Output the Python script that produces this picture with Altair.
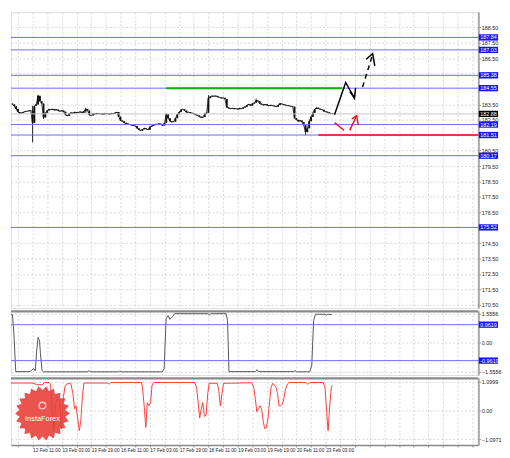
import math
import altair as alt
import pandas as pd

# ---------------- layout ----------------
W = 474
H_MAIN, H_OSC1, H_OSC2 = 300, 65, 68
FONT = "Liberation Sans"

# ---------------- data ----------------
X_DOMAIN = [4.2, 259.3]          # H1 bar index
P_DOMAIN = [170.30, 189.48]
OSC1_DOMAIN = [-1.73, 1.70]
OSC2_DOMAIN = [-1.317, 1.245]

grid_bars = list(range(8, 257, 8))
label_bars = [16, 32, 48, 64, 80, 96, 112, 128, 144, 160, 176]
time_labels = ["12 Feb 11:00", "13 Feb 03:00", "13 Feb 19:00", "16 Feb 11:00",
               "17 Feb 03:00", "17 Feb 19:00", "18 Feb 11:00", "19 Feb 03:00",
               "19 Feb 19:00", "20 Feb 11:00", "23 Feb 03:00"]

price_ticks = [188.5, 187.5, 186.5, 185.5, 183.5, 182.5, 180.5, 179.5,
               178.5, 177.5, 176.5, 174.5, 173.5, 172.5, 171.5, 170.5]

bar_start = 5
first_open = 183.55
closes = [
    183.50, 183.38, 183.20, 183.00, 182.92, 182.95, 183.00, 183.04, 183.06, 183.08,
    183.10, 182.30, 183.40, 183.50, 184.05, 183.70, 183.55, 182.65, 182.95, 183.10,
    183.18, 183.15, 183.20, 183.12, 183.16, 183.08, 183.05, 183.10, 183.02, 182.80,
    182.75, 182.90, 182.96, 182.92, 183.00, 182.95, 182.98, 183.02, 182.96, 183.05,
    183.20, 183.10, 182.80, 182.78, 182.90, 182.86, 182.92, 182.88, 182.90, 182.85,
    182.92, 182.88, 182.90, 182.86, 182.92, 182.88, 182.95, 183.00, 182.70, 182.45,
    182.40, 182.30, 182.25, 182.22, 182.20, 182.15, 182.12, 182.10, 181.95, 181.85,
    181.80, 181.88, 181.95, 181.90, 181.85, 182.05, 182.10, 182.15, 182.20, 182.22,
    182.25, 182.18, 182.12, 182.30, 182.85, 182.60, 182.40, 182.35, 182.38, 182.60,
    182.85, 183.00, 183.15, 183.18, 183.10, 182.98, 183.00, 182.95, 182.92, 182.88,
    182.82, 182.78, 182.70, 182.65, 182.68, 182.90, 182.96, 183.90, 184.00, 184.05,
    184.02, 184.05, 183.98, 183.95, 183.90, 183.92, 183.85, 183.30, 183.25, 183.22,
    183.25, 183.20, 183.22, 183.18, 183.25, 183.22, 183.30, 183.35, 183.45, 183.50,
    183.42, 183.55, 183.60, 183.75, 183.70, 183.55, 183.50, 183.45, 183.50, 183.44,
    183.40, 183.45, 183.42, 183.38, 183.35, 183.45, 183.55, 183.52, 183.48, 183.45,
    183.42, 183.40, 183.38, 183.35, 182.60, 182.50, 182.40, 182.45, 182.35, 182.15,
    181.70, 181.95, 182.40, 182.70, 182.95, 183.20, 183.28, 183.22, 183.18, 183.15,
    183.05, 183.02, 182.98, 182.92, 182.90, 182.88,
]
wick_bars = [16, 19, 22, 45, 89, 112, 138, 165]
wick_low = [181.03, 183.45, 182.55, 182.95, 182.30, 182.96, 183.60, 181.50]
wick_high = [183.40, 184.12, 183.55, 183.28, 182.92, 184.10, 183.88, 181.95]

levels = [187.84, 187.03, 185.38, 184.55, 182.19, 181.51, 180.17, 175.52]
current_price = 182.88
green_from, green_to, green_price = 88.9, 185.0, 184.55
red_from, red_to, red_price = 172.0, 259.3, 181.51

# forecast arrows (bar index, price)
black_solid_b = [180.8, 186.9, 191.7, None, 189.2, 191.7, 192.3]
black_solid_p = [182.83, 184.92, 183.90, None, 184.33, 183.90, 184.57]
black_dash_b = [196.1, 201.6]
black_dash_p = [184.62, 186.73]
black_head_b = [198.1, 201.6, 202.8]
black_head_p = [186.42, 186.79, 185.99]
red_b = [180.8, 186.0, None, 189.1, 192.9, None, 190.3, 192.9, 193.8]
red_p = [182.32, 181.81, None, 181.81, 182.77, None, 182.56, 182.77, 182.16]

osc1_b = [4.2, 5.0, 5.8, 6.8, 14.6, 15.6, 16.7, 17.5, 18.2, 19.0, 19.8, 20.3, 21.2, 21.9,
          45.8, 46.8, 47.8, 62.9, 63.4, 64.5, 86.8, 87.8, 88.9, 89.9, 90.9, 92.0, 93.6,
          111.7, 112.5, 113.3, 121.6, 122.4, 123.2, 137.7, 138.5, 139.3, 158.5, 159.3,
          160.0, 167.3, 168.4, 169.4, 170.4, 175.6, 176.4, 177.2, 179.3]
osc1_v = [1.50, 1.50, 0.50, -1.55, -1.55, -1.45, -1.40, -1.50, -0.50, 0.28, 0.10, -0.60,
          -1.50, -1.56, -1.56, -1.50, -1.56, -1.56, -1.52, -1.56, -1.56, -1.40, 1.30, 1.45,
          1.25, 1.35, 1.55, 1.55, 1.48, 1.55, 1.55, 1.20, -1.55, -1.55, -1.45, -1.55, -1.55,
          -1.50, -1.56, -1.56, -1.20, 1.20, 1.52, 1.52, 1.48, 1.52, 1.50]
osc1_levels = [0.9619, -0.9619]
osc1_ticks = [1.5556, 0.0, -1.5556]

osc2_b = [4.2, 16.2, 18.2, 21.3, 22.4, 25.0, 25.8, 26.5, 27.6, 28.6, 29.7, 30.7, 31.7, 32.8,
          33.8, 34.9, 36.9, 38.0, 38.9, 39.7, 40.6, 41.5, 42.3, 43.2, 44.0, 57.0, 57.7, 58.7,
          75.4, 76.0, 76.9, 77.8, 78.6, 79.5, 80.4, 81.2, 82.1, 104.5, 105.5, 106.4, 107.2,
          108.1, 108.9, 109.8, 110.7, 111.6, 112.4, 116.8, 117.6, 118.5, 119.4, 120.2, 135.6,
          136.7, 137.6, 138.4, 139.3, 140.2, 141.0, 141.9, 142.7, 143.6, 144.5, 145.3, 146.2,
          147.1, 148.8, 149.7, 150.5, 151.4, 152.3, 153.1, 153.9, 154.9, 155.9, 165.2, 166.3,
          167.3, 174.6, 175.6, 176.5, 177.3, 178.2, 179.1, 179.6]
osc2_v = [1.05, 1.05, 0.99, 0.98, 1.07, 1.07, 1.00, 0.20, -0.80, 0.30, 0.45, 0.40, -0.70, 0.50,
          0.95, 1.02, 1.03, 0.65, 0.07, 0.18, -0.29, -0.77, -0.42, 0.53, 1.05, 1.05, 1.00, 1.07,
          1.07, 0.89, 0.18, -0.65, 0.30, 0.18, 0.30, 0.96, 1.07, 1.07, 0.89, 0.30, -0.29,
          0.07, 0.30, -0.23, -0.17, 0.65, 1.04, 1.04, 0.77, 0.18, 0.65, 1.04, 1.06,
          0.89, 0.43, -0.05, 0.07, 0.18, 0.07, -0.42, -0.69, -0.66, -0.29, 0.30, 0.89,
          1.04, 0.90, 0.65, 0.18, 0.18, 0.24, 0.43, 0.77, 0.98, 1.07, 1.07, 1.00,
          1.07, 1.07, 0.89, -0.05, -0.77, 0.18, 0.89, 0.96]
osc2_ticks = [1.0999, 0.0, -1.0971]

logo_b, logo_v = 21.4, -0.11

# ---------------- tables ----------------
wick_map = {b: (lo, hi) for b, lo, hi in zip(wick_bars, wick_low, wick_high)}
rows = []
prev = first_open
for i, c in enumerate(closes):
    b = bar_start + i
    lo, hi = min(prev, c), max(prev, c)
    if b in wick_map:
        lo, hi = min(lo, wick_map[b][0]), max(hi, wick_map[b][1])
    rows.append({"b": b, "p": prev, "p2": c, "lo": lo, "hi": hi})
    prev = c
candles = pd.DataFrame(rows)


def seg_table(bs, ps):
    out, seg, k = [], 0, 0
    for b, p in zip(bs, ps):
        if b is None:
            seg += 1
            continue
        out.append({"b": b, "p": p, "seg": seg, "k": k})
        k += 1
    return pd.DataFrame(out)


# ---------------- encodings ----------------
label_expr = "''"
for b, t in reversed(list(zip(label_bars, time_labels))):
    label_expr = f"datum.value == {b} ? '{t}' : ({label_expr})"

GRID = dict(grid=True, gridDash=[2, 2], gridColor="#cdcdcd", gridWidth=0.8)


def xenc(field="b", bottom=False):
    if bottom:
        axis = alt.Axis(values=grid_bars, labelExpr=label_expr, labelAlign="left",
                        labelFontSize=4.8, labelFont=FONT, labelColor="#222", labelPadding=1,
                        labelOverlap=False, labelFlush=False, tickSize=2, tickColor="#888",
                        domain=True, domainColor="#8a8a8a", domainWidth=1.5, title=None, **GRID)
    else:
        axis = alt.Axis(values=grid_bars, labels=False, ticks=False, domain=False,
                        title=None, **GRID)
    return alt.X(f"{field}:Q", scale=alt.Scale(domain=X_DOMAIN, nice=False, zero=False),
                 axis=axis)


def yenc(field, domain, ticks, fmt_expr):
    axis = alt.Axis(orient="right", values=ticks, labelExpr=fmt_expr, labelFontSize=5.5,
                    labelFont=FONT, labelColor="#222", labelPadding=1, labelOverlap=False,
                    labelFlush=False, tickSize=2, tickColor="#777", domain=True,
                    domainColor="#a8a8a8", domainWidth=2, title=None, **GRID)
    return alt.Y(f"{field}:Q", scale=alt.Scale(domain=domain, nice=False, zero=False),
                 axis=axis)


PFMT = "format(datum.value, '.2f')"
OFMT = "datum.value == 0 ? '0.00' : format(datum.value, '.4f')"


def py(field):
    return yenc(field, P_DOMAIN, price_ticks, PFMT)


BLUE_LINE = "#6b6bff"
BLUE_BOX = "#1414ff"
BOX_H = 3.2

# ---------------- main panel ----------------
lev_df = pd.DataFrame({"p": levels, "txt": [f"{v:.2f}" for v in levels]})
cur_df = pd.DataFrame({"p": [current_price], "txt": [f"{current_price:.2f}"]})

close_line = alt.Chart(candles).mark_line(color="#222", strokeWidth=0.9).encode(
    x=xenc(), y=py("p2"))
wicks = alt.Chart(candles).mark_rule(color="#111", strokeWidth=0.9).encode(
    x=xenc(), y=py("lo"), y2="hi:Q")
bodies = alt.Chart(candles).mark_rule(color="#111", strokeWidth=1.8).encode(
    x=xenc(), y=py("p"), y2="p2:Q")
lev_rules = alt.Chart(lev_df).mark_rule(color=BLUE_LINE, strokeWidth=1).encode(y=py("p"))
cur_rule = alt.Chart(cur_df).mark_rule(color="#c8c8c8", strokeWidth=1).encode(y=py("p"))
green = alt.Chart(pd.DataFrame({"b": [green_from], "b2": [green_to], "p": [green_price]})
                  ).mark_rule(color="#13b013", strokeWidth=2).encode(
    x=xenc(), x2="b2:Q", y=py("p"))
red = alt.Chart(pd.DataFrame({"b": [red_from], "b2": [red_to], "p": [red_price]})
                ).mark_rule(color="#ee1111", strokeWidth=1.6).encode(
    x=xenc(), x2="b2:Q", y=py("p"))

blk = alt.Chart(seg_table(black_solid_b, black_solid_p)).mark_line(
    color="#000", strokeWidth=1.5).encode(x=xenc(), y=py("p"), detail="seg:N", order="k:Q")
blk_dash = alt.Chart(seg_table(black_dash_b, black_dash_p)).mark_line(
    color="#000", strokeWidth=1.5, strokeDash=[5, 4]).encode(
    x=xenc(), y=py("p"), detail="seg:N", order="k:Q")
blk_head = alt.Chart(seg_table(black_head_b, black_head_p)).mark_line(
    color="#000", strokeWidth=1.5).encode(x=xenc(), y=py("p"), detail="seg:N", order="k:Q")
red_arrow = alt.Chart(seg_table(red_b, red_p)).mark_line(
    color="#ee1111", strokeWidth=1.4).encode(x=xenc(), y=py("p"), detail="seg:N", order="k:Q")

boxes = alt.Chart(lev_df).mark_rect(color=BLUE_BOX, yOffset=-BOX_H, y2Offset=BOX_H).encode(
    x=alt.value(W + 0.5), x2=alt.value(W + 20), y=py("p"), y2="p:Q")
box_txt = alt.Chart(lev_df).mark_text(color="white", fontSize=5.5, font=FONT, align="left",
                                      baseline="middle").encode(
    x=alt.value(W + 2), y=py("p"), text="txt:N")
cur_box = alt.Chart(cur_df).mark_rect(color="#000", yOffset=-BOX_H, y2Offset=BOX_H).encode(
    x=alt.value(W + 0.5), x2=alt.value(W + 20), y=py("p"), y2="p:Q")
cur_txt = alt.Chart(cur_df).mark_text(color="white", fontSize=5.5, font=FONT, align="left",
                                      baseline="middle").encode(
    x=alt.value(W + 2), y=py("p"), text="txt:N")

main = alt.layer(close_line, wicks, bodies, lev_rules, cur_rule, green, red, blk, blk_dash,
                 blk_head, red_arrow, boxes, box_txt, cur_box, cur_txt
                 ).properties(width=W, height=H_MAIN)

# ---------------- oscillator 1 ----------------
def o1y(field):
    return yenc(field, OSC1_DOMAIN, osc1_ticks, OFMT)


o1_lev = pd.DataFrame({"v": osc1_levels, "txt": [f"{v:.4f}" for v in osc1_levels]})
o1_df = pd.DataFrame({"b": osc1_b, "v": osc1_v})
o1 = alt.layer(
    alt.Chart(o1_df).mark_line(color="#555", strokeWidth=1).encode(x=xenc(), y=o1y("v")),
    alt.Chart(o1_lev).mark_rule(color=BLUE_LINE, strokeWidth=1).encode(y=o1y("v")),
    alt.Chart(o1_lev).mark_rect(color=BLUE_BOX, yOffset=-BOX_H, y2Offset=BOX_H).encode(
        x=alt.value(W + 0.5), x2=alt.value(W + 20), y=o1y("v"), y2="v:Q"),
    alt.Chart(o1_lev).mark_text(color="white", fontSize=5.5, font=FONT, align="left",
                                baseline="middle").encode(
        x=alt.value(W + 2), y=o1y("v"), text="txt:N"),
    alt.Chart(o1_lev.head(1)).mark_rule(color="#8a8a8a", strokeWidth=2.2).encode(
        x=alt.value(0), x2=alt.value(W), y=alt.value(0.5)),
).properties(width=W, height=H_OSC1)

# ---------------- oscillator 2 ----------------
def o2y(field):
    return yenc(field, OSC2_DOMAIN, osc2_ticks, OFMT)


n_pts = 22
star = []
for k in range(2 * n_pts):
    r = 1.0 if k % 2 == 0 else 0.84
    a = math.pi * k / n_pts
    star.append(f"{r * math.cos(a):.3f},{r * math.sin(a):.3f}")
STAR = "M" + " L".join(star) + " Z"

o2_df = pd.DataFrame({"b": osc2_b, "v": osc2_v})
logo_df = pd.DataFrame({"b": [logo_b], "v": [logo_v], "txt": ["InstaForex"]})
o2 = alt.layer(
    alt.Chart(o2_df).mark_line(color="#ff3b3b", strokeWidth=1).encode(x=xenc(bottom=True),
                                                                    y=o2y("v")),
    alt.Chart(logo_df).mark_point(shape=STAR, size=3100, filled=True, fill="#e8403b",
                                  opacity=0.9, strokeWidth=0).encode(
        x=xenc(bottom=True), y=o2y("v")),
    alt.Chart(logo_df).mark_point(shape="circle", size=45, filled=False, stroke="white",
                                  strokeWidth=1.4, yOffset=-8).encode(
        x=xenc(bottom=True), y=o2y("v")),
    alt.Chart(logo_df).mark_text(color="white", fontSize=7.5, font=FONT, dy=6).encode(
        x=xenc(bottom=True), y=o2y("v"), text="txt:N"),
    alt.Chart(logo_df).mark_rule(color="#8a8a8a", strokeWidth=2.2).encode(
        x=alt.value(0), x2=alt.value(W), y=alt.value(0.5)),
).properties(width=W, height=H_OSC2)

chart = alt.vconcat(main, o1, o2, spacing=0).properties(padding=0).configure_view(
    stroke=None).configure(background="white")

chart.save("out.html", embed_options={"renderer": "svg", "actions": False})
